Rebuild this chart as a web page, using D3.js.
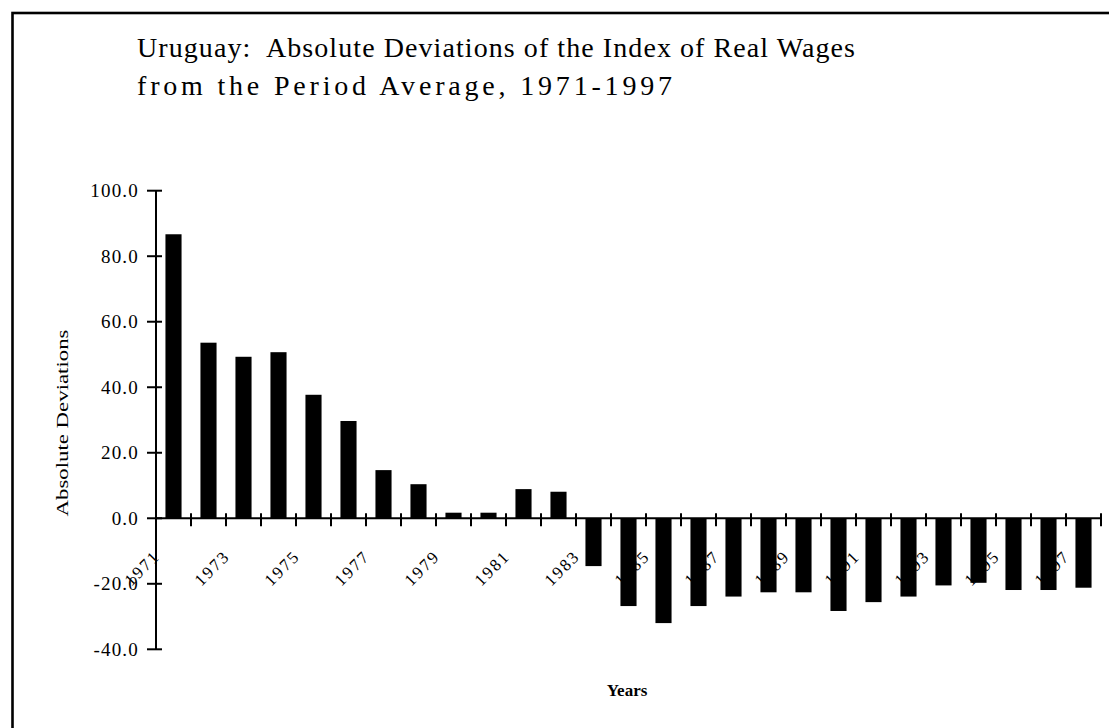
<!DOCTYPE html>
<html>
<head>
<meta charset="utf-8">
<script src="https://cdn.jsdelivr.net/npm/d3@7/dist/d3.min.js"></script>
<style>
  html, body { margin: 0; padding: 0; background: #fff; }
  svg { display: block; }
  text { font-family: "Liberation Serif", "DejaVu Serif", serif; fill: #000; }
</style>
</head>
<body>
<svg id="chart" width="1109" height="728"></svg>
<script>
const years = ["1971","1972","1973","1974","1975","1976","1977","1978","1979","1980","1981","1982","1983","1984","1985","1986","1987","1988","1989","1990","1991","1992","1993","1994","1995","1996","1997"];
const deviations = [86.7, 53.6, 49.3, 50.7, 37.7, 29.7, 14.7, 10.4, 1.7, 1.7, 8.9, 8.1, -14.6, -26.8, -32.0, -26.8, -23.9, -22.6, -22.6, -28.3, -25.6, -23.9, -20.5, -19.7, -21.9, -21.9, -21.2];
const yTicks = [-40, -20, 0, 20, 40, 60, 80, 100];
const xLabelYears = ["1971","1973","1975","1977","1979","1981","1983","1985","1987","1989","1991","1993","1995","1997"];
const titleLines = ["Uruguay:  Absolute Deviations of the Index of Real Wages", "from the Period Average, 1971-1997"];
const yAxisTitle = "Absolute Deviations";
const xAxisTitle = "Years";

const svg = d3.select("#chart");

// frame
svg.append("rect")
  .attr("x", 12.5).attr("y", 13).attr("width", 1200).attr("height", 800)
  .attr("fill", "none").attr("stroke", "#000").attr("stroke-width", 2.6);

const x = d3.scaleBand().domain(years).range([156, 1101]).paddingInner(0.54).paddingOuter(0.27);
const y = d3.scaleLinear().domain([-40, 100]).range([649.3, 190.7]);

// bars
svg.append("g").selectAll("rect")
  .data(years.map((yr, i) => ({ yr, v: deviations[i] })))
  .join("rect")
  .attr("x", d => x(d.yr))
  .attr("width", x.bandwidth())
  .attr("y", d => y(Math.max(0, d.v)))
  .attr("height", d => Math.abs(y(d.v) - y(0)))
  .attr("fill", "#000");

// y axis
const yAxis = svg.append("g");
yAxis.append("line")
  .attr("x1", 156).attr("x2", 156)
  .attr("y1", y(100)).attr("y2", y(-40))
  .attr("stroke", "#000").attr("stroke-width", 2);
yAxis.selectAll("line.tick").data(yTicks).join("line")
  .attr("class", "tick")
  .attr("x1", 147).attr("x2", 162)
  .attr("y1", d => y(d)).attr("y2", d => y(d))
  .attr("stroke", "#000").attr("stroke-width", 2);
yAxis.selectAll("text").data(yTicks).join("text")
  .attr("x", 139).attr("y", d => y(d))
  .attr("dy", "0.35em")
  .attr("text-anchor", "end")
  .attr("font-size", 19)
  .attr("letter-spacing", 1.2)
  .text(d => d3.format(".1f")(d).replace("\u2212", "-"));

// x axis
const step = x.step();
const xAxis = svg.append("g");
xAxis.append("line")
  .attr("x1", 156).attr("x2", x.range()[1] + 1)
  .attr("y1", y(0)).attr("y2", y(0))
  .attr("stroke", "#000").attr("stroke-width", 2);
xAxis.selectAll("line.tick").data(years).join("line")
  .attr("class", "tick")
  .attr("x1", d => x(d) + x.bandwidth() + step * x.paddingInner() / 2)
  .attr("x2", d => x(d) + x.bandwidth() + step * x.paddingInner() / 2)
  .attr("y1", y(0) - 5).attr("y2", y(0) + 8)
  .attr("stroke", "#000").attr("stroke-width", 2);
xAxis.selectAll("text").data(xLabelYears).join("text")
  .attr("text-anchor", "end")
  .attr("font-size", 17)
  .attr("letter-spacing", 2)
  .attr("transform", d => {
    const left = x(d) - step * x.paddingInner() / 2;
    return `translate(${left + 5},${y(0) + 39}) rotate(-45)`;
  })
  .text(d => d);

// titles
svg.selectAll("text.title").data(titleLines).join("text")
  .attr("class", "title")
  .attr("x", 137)
  .attr("y", (d, i) => 57 + i * 38)
  .attr("font-size", 28)
  .style("white-space", "pre")
  .attr("textLength", (d, i) => i === 0 ? 718 : 535)
  .attr("lengthAdjust", "spacing")
  .text(d => d);

svg.append("text")
  .attr("transform", "translate(68,423) rotate(-90)")
  .attr("text-anchor", "middle")
  .attr("font-size", 17)
  .attr("textLength", 187)
  .attr("lengthAdjust", "spacingAndGlyphs")
  .text(yAxisTitle);

svg.append("text")
  .attr("x", 627).attr("y", 696)
  .attr("text-anchor", "middle")
  .attr("font-size", 17)
  .attr("font-weight", "bold")
  .text(xAxisTitle);
</script>
</body>
</html>
